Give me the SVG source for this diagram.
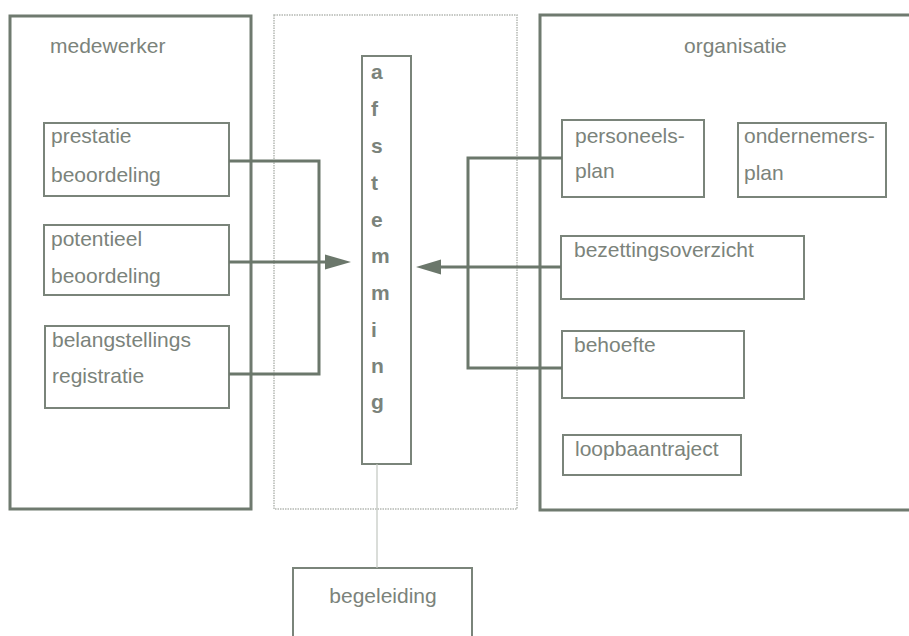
<svg xmlns="http://www.w3.org/2000/svg" width="909" height="636" viewBox="0 0 909 636">
<defs>
<style>
.outer{fill:none;stroke:#6f7a6f;stroke-width:3}
.inner{fill:none;stroke:#7a847a;stroke-width:2}
.dotted{fill:none;stroke:#b4b8b2;stroke-width:1.5;stroke-dasharray:1.5 1}
.conn{fill:none;stroke:#6b776b;stroke-width:3}
.thin{fill:none;stroke:#c2c6c0;stroke-width:1.2}
.t{font-family:"Liberation Sans",Arial,sans-serif;font-size:21px;fill:#7b837b}
.v{font-family:"Liberation Sans",Arial,sans-serif;font-size:21px;font-weight:bold;fill:#7b837b}
.ah{fill:#6b776b}
</style>
</defs>
<rect width="909" height="636" fill="#ffffff"/>
<g id="medewerker">
<rect class="outer" x="10" y="16" width="241" height="493"/>
<text class="t" x="50" y="53">medewerker</text>
</g>
<g id="prestatie">
<rect class="inner" x="44" y="123" width="185" height="73"/>
<text class="t" x="51" y="143">prestatie</text>
<text class="t" x="51" y="182">beoordeling</text>
</g>
<g id="potentieel">
<rect class="inner" x="44" y="225" width="185" height="70"/>
<text class="t" x="51" y="246">potentieel</text>
<text class="t" x="51" y="283">beoordeling</text>
</g>
<g id="belangstellings">
<rect class="inner" x="45" y="326" width="184" height="82"/>
<text class="t" x="52" y="347">belangstellings</text>
<text class="t" x="52" y="383">registratie</text>
</g>
<g id="midden">
<rect class="dotted" x="274" y="15" width="243" height="494"/>
</g>
<g id="afstemming">
<rect class="inner" x="362" y="56" width="49" height="408"/>
<text class="v" x="371" y="79">a</text>
<text class="v" x="371" y="116">f</text>
<text class="v" x="371" y="153">s</text>
<text class="v" x="371" y="190">t</text>
<text class="v" x="371" y="227">e</text>
<text class="v" x="371" y="263">m</text>
<text class="v" x="371" y="300">m</text>
<text class="v" x="371" y="337">i</text>
<text class="v" x="371" y="373">n</text>
<text class="v" x="371" y="409">g</text>
</g>
<g id="organisatie">
<path class="outer" d="M912 15 H540 V510 H912"/>
<text class="t" x="684" y="53">organisatie</text>
</g>
<g id="personeelsplan">
<rect class="inner" x="562" y="120" width="142" height="77"/>
<text class="t" x="575" y="143">personeels-</text>
<text class="t" x="575" y="178">plan</text>
</g>
<g id="ondernemersplan">
<rect class="inner" x="738" y="123" width="148" height="74"/>
<text class="t" x="744" y="143">ondernemers-</text>
<text class="t" x="744" y="180">plan</text>
</g>
<g id="bezettingsoverzicht">
<rect class="inner" x="561" y="236" width="243" height="63"/>
<text class="t" x="574" y="257">bezettingsoverzicht</text>
</g>
<g id="behoefte">
<rect class="inner" x="562" y="331" width="182" height="67"/>
<text class="t" x="574" y="352">behoefte</text>
</g>
<g id="loopbaantraject">
<rect class="inner" x="563" y="435" width="178" height="40"/>
<text class="t" x="575" y="456">loopbaantraject</text>
</g>
<g id="begeleiding">
<path class="inner" d="M293 640 V568 H472 V640"/>
<text class="t" x="383" y="603" text-anchor="middle">begeleiding</text>
</g>
<g id="connectors">
<path class="conn" d="M229 161 H319 V374 H229"/>
<path class="conn" d="M229 262 H327"/>
<polygon class="ah" points="351,262 325,254.5 325,269.5"/>
<path class="conn" d="M562 158 H468 V368 H562"/>
<path class="conn" d="M561 267 H438"/>
<polygon class="ah" points="416,267 441,259.5 441,274.5"/>
<path class="thin" d="M377 464 V568"/>
</g>
</svg>
